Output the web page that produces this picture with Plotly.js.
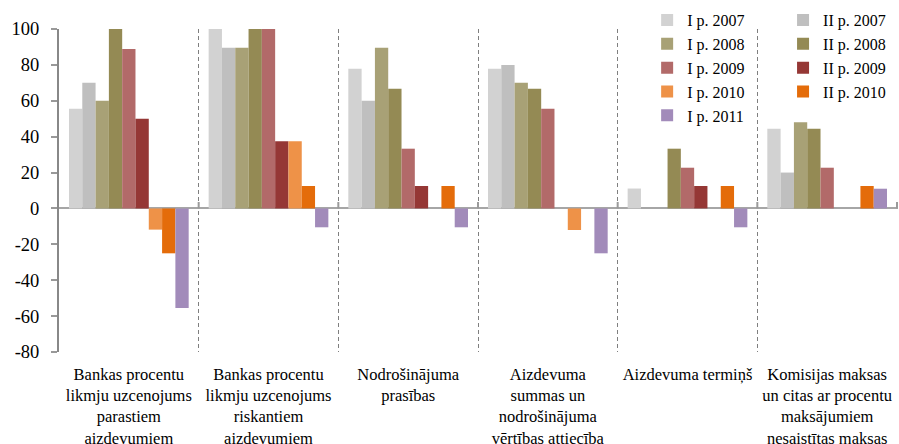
<!DOCTYPE html>
<html>
<head>
<meta charset="utf-8">
<script src="https://cdn.plot.ly/plotly-3.0.1.min.js"></script>
<style>html,body{margin:0;padding:0;background:#fff;}#chart{width:899px;height:444px;}</style>
</head>
<body>
<div id="chart"></div>
<script>
var categories = [
  "Bankas procentu<br>likmju uzcenojums<br>parastiem<br>aizdevumiem",
  "Bankas procentu<br>likmju uzcenojums<br>riskantiem<br>aizdevumiem",
  "Nodrošinājuma<br>prasības",
  "Aizdevuma<br>summas un<br>nodrošinājuma<br>vērtības attiecība",
  "Aizdevuma termiņš",
  "Komisijas maksas<br>un citas ar procentu<br>maksājumiem<br>nesaistītas maksas"
];
var seriesNames = ["I p. 2007","II p. 2007","I p. 2008","II p. 2008","I p. 2009","II p. 2009","I p. 2010","II p. 2010","I p. 2011"];
var s_I2007  = [55.6, 100, 77.8, 77.8, 11.1, 44.4];
var s_II2007 = [70, 89.5, 60, 80, 0, 20];
var s_I2008  = [60, 89.5, 89.5, 70, 0, 48];
var s_II2008 = [100, 100, 66.7, 66.7, 33.3, 44.4];
var s_I2009  = [88.9, 100, 33.3, 55.6, 22.7, 22.7];
var s_II2009 = [50, 37.5, 12.5, 0, 12.5, 0];
var s_I2010  = [-11.8, 37.5, 0, -12, 0, 0];
var s_II2010 = [-25, 12.5, 12.5, 0, 12.5, 12.5];
var s_I2011  = [-55.5, -10.5, -10.5, -25, -10.5, 11];
var yTicks = [-80, -60, -40, -20, 0, 20, 40, 60, 80, 100];

var seriesValues = [s_I2007, s_II2007, s_I2008, s_II2008, s_I2009, s_II2009, s_I2010, s_II2010, s_I2011];
var colors = ["#D2D2D2","#BFBFBF","#A8A176","#948A54","#B26A69","#953735","#EE9248","#E46C0A","#A28BBA"];

var FONT = "Liberation Serif";
var traces = seriesValues.map(function(vals, i){
  return {
    type: "bar",
    name: seriesNames[i],
    x: categories,
    y: vals,
    marker: {color: colors[i]},
    legend: (i % 2 === 0) ? "legend" : "legend2",
    hoverinfo: "skip"
  };
});

var shapes = [];
for (var k = 0; k < categories.length; k++) {
  shapes.push({type:"line", xref:"x", yref:"y", x0:k+0.5, x1:k+0.5, y0:0, y1:3.6,
    line:{color:"#9a9a9a", width:2}, layer:"above"});
}

var layout = {
  width: 899, height: 444,
  margin: {l: 59, r: 1, t: 29, b: 92},
  paper_bgcolor: "#fff", plot_bgcolor: "#fff",
  font: {family: FONT, size: 18, color: "#000"},
  barmode: "group",
  bargap: 0.143,
  bargroupgap: 0,
  showlegend: true,
  xaxis: {
    type: "category",
    tickson: "boundaries",
    tickangle: 0,
    showgrid: true, gridcolor: "#7f7f7f", gridwidth: 1, griddash: "4px,3px",
    ticks: "", showline: false, zeroline: false,
    tickfont: {family: FONT, size: 16.5, color: "#000"},
    ticklabelstandoff: 10,
    fixedrange: true
  },
  yaxis: {
    range: [-80, 100],
    tickvals: yTicks,
    ticktext: yTicks.map(String),
    showgrid: false,
    showline: true, linecolor: "#888", linewidth: 2,
    ticks: "outside", ticklen: 6, tickwidth: 2, tickcolor: "#999",
    zeroline: true, zerolinecolor: "#a6a6a6", zerolinewidth: 2,
    tickfont: {family: FONT, size: 18.5, color: "#000"},
    ticklabelstandoff: 8,
    fixedrange: true
  },
  legend: {
    x: 0.701, xanchor: "left", y: 1.08, yanchor: "top",
    orientation: "v", bgcolor: "rgba(0,0,0,0)", borderwidth: 0,
    font: {family: FONT, size: 16, color: "#000"}
  },
  legend2: {
    x: 0.863, xanchor: "left", y: 1.08, yanchor: "top",
    orientation: "v", bgcolor: "rgba(0,0,0,0)", borderwidth: 0,
    font: {family: FONT, size: 16, color: "#000"}
  },
  shapes: shapes
};

Plotly.newPlot("chart", traces, layout, {displayModeBar: false, staticPlot: true});
</script>
</body>
</html>
